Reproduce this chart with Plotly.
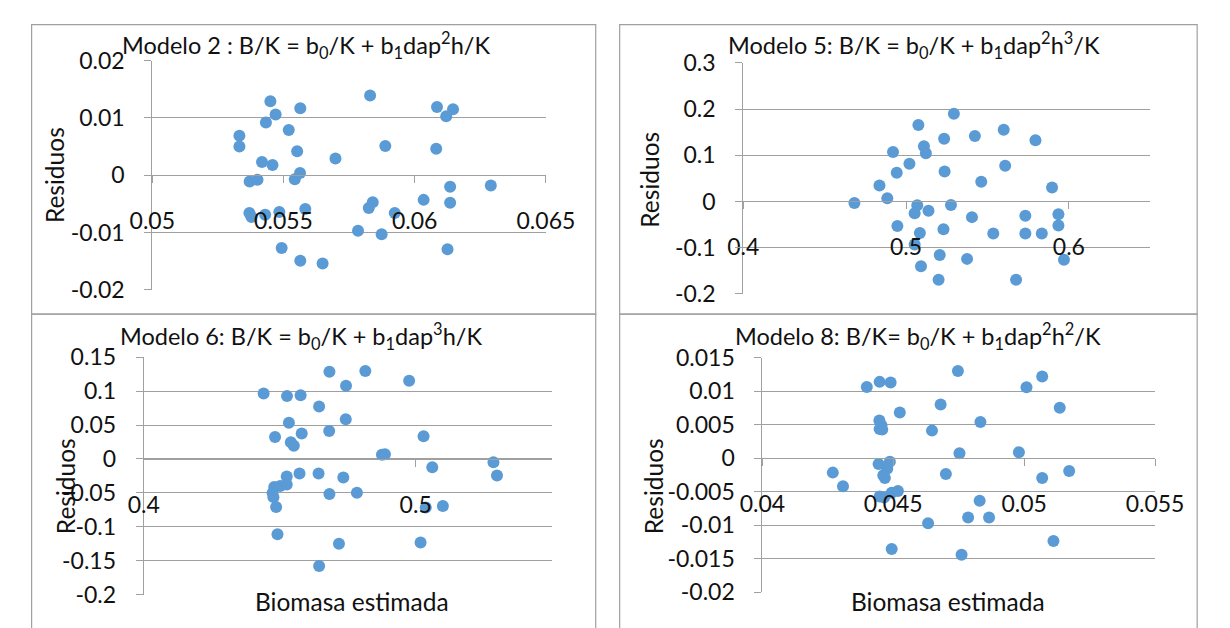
import plotly.graph_objects as go

# Residuals vs estimated biomass for four weighted allometric models

# Modelo 2
m2_est = [0.0545, 0.05564, 0.0547, 0.05433, 0.0552, 0.05332, 0.05332, 0.05552, 0.05418, 0.05458,
          0.05563, 0.05543, 0.05371, 0.05401, 0.05698, 0.0583, 0.05888, 0.06085, 0.0612, 0.06146,
          0.06082, 0.06135, 0.0629, 0.06034, 0.06135, 0.0584, 0.05825, 0.05924, 0.05784, 0.05874,
          0.06125, 0.0537, 0.05378, 0.0543, 0.05484, 0.05583, 0.05493, 0.05564, 0.05649]
m2_res = [0.0129, 0.0117, 0.0106, 0.0092, 0.0079, 0.0069, 0.0050, 0.0042, 0.0023, 0.0018,
          0.0004, -0.0007, -0.0011, -0.0008, 0.0029, 0.0139, 0.0051, 0.0119, 0.0103, 0.0115,
          0.0046, -0.0020, -0.0018, -0.0043, -0.0048, -0.0047, -0.0057, -0.0066, -0.0097, -0.0103,
          -0.0129, -0.0066, -0.0073, -0.0069, -0.0064, -0.0059, -0.0127, -0.0149, -0.0154]

# Modelo 5
m5_est = [0.4683, 0.4837, 0.4885, 0.492, 0.4943, 0.4947, 0.5021, 0.5076, 0.511, 0.5122,
          0.5069, 0.5053, 0.5138, 0.5085, 0.5053, 0.5092, 0.5234, 0.5237, 0.5294, 0.5276,
          0.523, 0.5207, 0.52, 0.5375, 0.5405, 0.5423, 0.5462, 0.5536, 0.56, 0.5609,
          0.5676, 0.5733, 0.5733, 0.5795, 0.5834, 0.5897, 0.5936, 0.5936, 0.597]
m5_res = [-0.0034, 0.0345, 0.0069, 0.1069, 0.0621, -0.0531, 0.0814, 0.1655, 0.1193, 0.1041,
          -0.0083, -0.0255, -0.02, -0.0683, -0.0931, -0.14, 0.1359, 0.0648, 0.1897, -0.0076,
          -0.06, -0.1159, -0.169, -0.1241, -0.0338, 0.1414, 0.0428, -0.069, 0.1552, 0.0772,
          -0.169, -0.031, -0.069, 0.1324, -0.069, 0.0303, -0.0276, -0.0517, -0.1262]

# Modelo 6
m6_est = [0.4441, 0.4527, 0.4577, 0.4645, 0.4683, 0.4744, 0.4815, 0.4976, 0.4534, 0.4743,
          0.4483, 0.4581, 0.4682, 0.4541, 0.4552, 0.5029, 0.4876, 0.4887, 0.5286, 0.5299,
          0.5061, 0.4526, 0.4573, 0.4643, 0.4734, 0.448, 0.4502, 0.4526, 0.4474, 0.4477,
          0.4683, 0.4784, 0.4487, 0.5037, 0.51, 0.4492, 0.4718, 0.5018, 0.4645]
m6_res = [0.0963, 0.0925, 0.0939, 0.0771, 0.1285, 0.1079, 0.1294, 0.115, 0.0533, 0.0584,
          0.0322, 0.0374, 0.0411, 0.0248, 0.0196, 0.0336, 0.0061, 0.007, -0.0047, -0.0243,
          -0.0121, -0.0257, -0.0215, -0.0215, -0.0271, -0.0411, -0.0397, -0.0374, -0.05, -0.0561,
          -0.0514, -0.0495, -0.0706, -0.0715, -0.0692, -0.1107, -0.1248, -0.1229, -0.1575]

# Modelo 8
m8_est = [0.04399, 0.04448, 0.0449, 0.04747, 0.05009, 0.05069, 0.05136, 0.04681, 0.04525, 0.04447,
          0.04455, 0.04448, 0.04458, 0.04648, 0.04833, 0.04753, 0.0498, 0.04444, 0.04487, 0.04477,
          0.04269, 0.04308, 0.04462, 0.04468, 0.04701, 0.05069, 0.05172, 0.04448, 0.04465, 0.04494,
          0.04518, 0.0483, 0.04786, 0.04866, 0.04633, 0.05112, 0.04494, 0.04761]
m8_res = [0.01067, 0.01143, 0.01133, 0.01305, 0.01062, 0.01224, 0.00757, 0.00805, 0.00686, 0.00567,
          0.00495, 0.00438, 0.00429, 0.00414, 0.00543, 0.00076, 0.0009, -0.00086, -0.00052, -0.00157,
          -0.00214, -0.00419, -0.00252, -0.00295, -0.00233, -0.00295, -0.0019, -0.00571, -0.00586, -0.00514,
          -0.0049, -0.00633, -0.00886, -0.00886, -0.00971, -0.01238, -0.01357, -0.01443]

# Tick values and labels
m2_xticks = [0.05, 0.055, 0.06, 0.065]
m2_xlabels = ["0.05", "0.055", "0.06", "0.065"]
m2_yticks = [-0.02, -0.01, 0, 0.01, 0.02]
m2_ylabels = ["-0.02", "-0.01", "0", "0.01", "0.02"]

m5_xticks = [0.4, 0.5, 0.6]
m5_xlabels = ["0.4", "0.5", "0.6"]
m5_yticks = [-0.2, -0.1, 0, 0.1, 0.2, 0.3]
m5_ylabels = ["-0.2", "-0.1", "0", "0.1", "0.2", "0.3"]

m6_xticks = [0.4, 0.5]
m6_xlabels = ["0.4", "0.5"]
m6_yticks = [-0.2, -0.15, -0.1, -0.05, 0, 0.05, 0.1, 0.15]
m6_ylabels = ["-0.2", "-0.15", "-0.1", "-0.05", "0", "0.05", "0.1", "0.15"]

m8_xticks = [0.04, 0.045, 0.05, 0.055]
m8_xlabels = ["0.04", "0.045", "0.05", "0.055"]
m8_yticks = [-0.02, -0.015, -0.01, -0.005, 0, 0.005, 0.01, 0.015]
m8_ylabels = ["-0.02", "-0.015", "-0.01", "-0.005", "0", "0.005", "0.01", "0.015"]

W, H = 1230, 628
FONT = "Lato"
GRAY = "#a0a0a0"
BLUE = "#5b9bd5"
TICK_SIZE = 23
TITLE_SIZE = 23.5
AXIS_TITLE_SIZE = 24.5


def fx(p):
    return p / W


def fy(p):
    return 1 - p / H


panels = [
    dict(x=m2_est, y=m2_res, xr=[0.05, 0.065], xt=m2_xticks, xl=m2_xlabels,
         yr=[-0.02, 0.02], yt=m2_yticks, yl=m2_ylabels,
         plot=(135, 546, 47.7, 287.7), box=(9, 598, 10, 313),
         title="Modelo 2 : B/K = b<sub>0</sub>/K + b<sub>1</sub>dap<sup>2</sup>h/K",
         title_at=(295, 32), ytitle_at=(33, 168), xtitle_at=None),
    dict(x=m5_est, y=m5_res, xr=[0.4, 0.65], xt=m5_xticks, xl=m5_xlabels,
         yr=[-0.2, 0.3], yt=m5_yticks, yl=m5_ylabels,
         plot=(752, 1177, 50, 292), box=(623, 1226, 10, 313),
         title="Modelo 5: B/K = b<sub>0</sub>/K + b<sub>1</sub>dap<sup>2</sup>h<sup>3</sup>/K",
         title_at=(930, 32), ytitle_at=(654, 172), xtitle_at=None),
    dict(x=m6_est, y=m6_res, xr=[0.4, 0.55], xt=m6_xticks, xl=m6_xlabels,
         yr=[-0.2, 0.15], yt=m6_yticks, yl=m6_ylabels,
         plot=(126, 552, 358, 607), box=(9, 598, 313, 660),
         title="Modelo 6: B/K = b<sub>0</sub>/K + b<sub>1</sub>dap<sup>3</sup>h/K",
         title_at=(290, 336), ytitle_at=(44, 493), xtitle_at=(344, 614)),
    dict(x=m8_est, y=m8_res, xr=[0.04, 0.055], xt=m8_xticks, xl=m8_xlabels,
         yr=[-0.02, 0.015], yt=m8_yticks, yl=m8_ylabels,
         plot=(772, 1182, 359, 604), box=(623, 1226, 313, 660),
         title="Modelo 8: B/K= b<sub>0</sub>/K + b<sub>1</sub>dap<sup>2</sup>h<sup>2</sup>/K",
         title_at=(934, 336), ytitle_at=(658, 493), xtitle_at=(966, 614)),
]

fig = go.Figure()
layout = dict(
    width=W, height=H,
    margin=dict(l=0, r=0, t=0, b=0),
    paper_bgcolor="white", plot_bgcolor="white",
    showlegend=False,
    font=dict(family=FONT, size=TICK_SIZE, color="#111111"),
)
shapes = []
annotations = []

for i, p in enumerate(panels, start=1):
    xa = "x" if i == 1 else f"x{i}"
    ya = "y" if i == 1 else f"y{i}"
    x0, x1, y0, y1 = p["plot"]
    ydom = [fy(y1), fy(y0)]
    # horizontal axis crosses the vertical axis at zero
    zero_pos = ydom[0] + (0 - p["yr"][0]) / (p["yr"][1] - p["yr"][0]) * (ydom[1] - ydom[0])

    fig.add_trace(go.Scatter(
        x=p["x"], y=p["y"], mode="markers", xaxis=xa, yaxis=ya,
        marker=dict(color=BLUE, size=12, line=dict(width=0)),
        cliponaxis=False,
    ))

    layout["xaxis" if i == 1 else f"xaxis{i}"] = dict(
        domain=[fx(x0), fx(x1)], range=p["xr"], anchor="free", position=zero_pos,
        tickvals=p["xt"], ticktext=p["xl"], ticks="outside", ticklen=7, tickcolor=GRAY,
        showline=True, linecolor=GRAY, linewidth=1, showgrid=False, zeroline=False,
        ticklabelstandoff=18, tickfont=dict(size=TICK_SIZE),
    )
    layout["yaxis" if i == 1 else f"yaxis{i}"] = dict(
        domain=ydom, range=p["yr"], anchor=xa,
        tickvals=p["yt"], ticktext=p["yl"], ticks="outside", ticklen=7, tickcolor=GRAY,
        showline=True, linecolor=GRAY, linewidth=1, showgrid=True, gridcolor=GRAY,
        gridwidth=1, zeroline=False, ticklabelstandoff=15, tickfont=dict(size=TICK_SIZE),
    )

    bx0, bx1, by0, by1 = p["box"]
    shapes.append(dict(type="rect", xref="paper", yref="paper",
                       x0=fx(bx0), x1=fx(bx1), y0=fy(by1), y1=fy(by0),
                       line=dict(color=GRAY, width=1.2), fillcolor="rgba(0,0,0,0)", layer="below"))

    tx, ty = p["title_at"]
    annotations.append(dict(text=p["title"], x=fx(tx), y=fy(ty), xref="paper", yref="paper",
                            showarrow=False, xanchor="center", yanchor="middle",
                            font=dict(size=TITLE_SIZE)))
    rx, ry = p["ytitle_at"]
    annotations.append(dict(text="Residuos", x=fx(rx), y=fy(ry), xref="paper", yref="paper",
                            showarrow=False, textangle=-90, xanchor="center", yanchor="middle",
                            font=dict(size=AXIS_TITLE_SIZE)))
    if p["xtitle_at"]:
        bxp, byp = p["xtitle_at"]
        annotations.append(dict(text="Biomasa estimada", x=fx(bxp), y=fy(byp), xref="paper",
                                yref="paper", showarrow=False, xanchor="center",
                                yanchor="middle", font=dict(size=AXIS_TITLE_SIZE)))

layout["shapes"] = shapes
layout["annotations"] = annotations
fig.update_layout(**layout)
fig.write_html("out.html")
